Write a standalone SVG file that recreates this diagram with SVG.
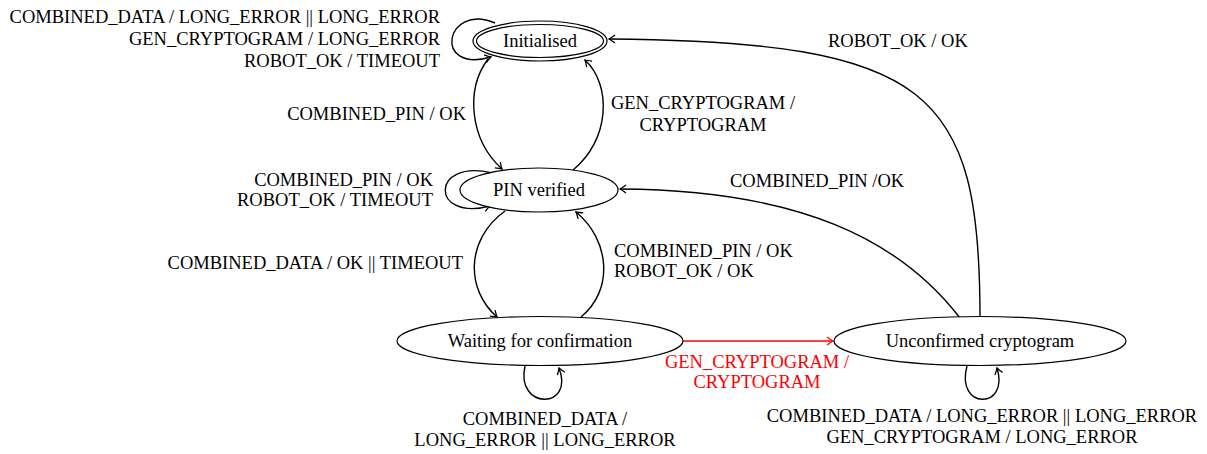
<svg xmlns="http://www.w3.org/2000/svg" width="1207" height="454" viewBox="0 0 1207 454">
<style>
text{font-family:"Liberation Serif","Times New Roman",serif;font-size:18.5px;fill:#000}
.node{fill:#fff;stroke:#000;stroke-width:1.2}
.e{fill:none;stroke:#000;stroke-width:1.4}
.red{stroke:#f00}
.rt{fill:#f00}
.r{text-anchor:end}
.m{text-anchor:middle}
</style>
<defs>
<marker id="ah" markerUnits="userSpaceOnUse" markerWidth="12" markerHeight="12" viewBox="-8 -6 10 12" refX="0" refY="0" orient="auto">
<path d="M-6,-4 Q-2,-1 0,0 Q-2,1 -6,4" fill="none" stroke="#000" stroke-width="1.3"/>
</marker>
<marker id="ahr" markerUnits="userSpaceOnUse" markerWidth="12" markerHeight="12" viewBox="-8 -6 10 12" refX="0" refY="0" orient="auto">
<path d="M-6,-4 Q-2,-1 0,0 Q-2,1 -6,4" fill="none" stroke="#f00" stroke-width="1.3"/>
</marker>
</defs>
<g id="connectors">
<path class="e" d="M495,23 C445,2 432,74 491,57" marker-end="url(#ah)"/>
<path class="e" d="M488,59 C465,90 470,140 502,169" marker-end="url(#ah)"/>
<path class="e" d="M573,170 C610,140 612,85 585,60" marker-end="url(#ah)"/>
<path class="e" d="M492,173 C430,158 430,222 490,206" marker-end="url(#ah)"/>
<path class="e" d="M505,211 C465,240 466,290 497,317" marker-end="url(#ah)"/>
<path class="e" d="M581,317 C614,290 610,240 576,212" marker-end="url(#ah)"/>
<path class="e" d="M960,318 C900,240 800,190 620,189" marker-end="url(#ah)"/>
<path class="e" d="M980,317 C980,90 930,42 609,39" marker-end="url(#ah)"/>
<path class="e red" d="M683,341 L833,341" marker-end="url(#ahr)"/>
<path class="e" d="M525,366 C515,410 575,410 559,368" marker-end="url(#ah)"/>
<path class="e" d="M967,366 C955,410 1010,410 997,368" marker-end="url(#ah)"/>
</g>
<g id="n-initialised">
<ellipse class="node" cx="540" cy="41" rx="67" ry="20"/>
<ellipse class="node" cx="540" cy="41" rx="63.5" ry="16.5"/>
<text class="m" x="540" y="47">Initialised</text>
</g>
<g id="n-pin">
<ellipse class="node" cx="539" cy="190" rx="79" ry="22"/>
<text class="m" x="539" y="196">PIN verified</text>
</g>
<g id="n-waiting">
<ellipse class="node" cx="540" cy="341" rx="143" ry="24.5"/>
<text class="m" x="540" y="347">Waiting for confirmation</text>
</g>
<g id="n-unconfirmed">
<ellipse class="node" cx="980" cy="341" rx="146" ry="24.5"/>
<text class="m" x="980" y="347">Unconfirmed cryptogram</text>
</g>
<g id="labels">
<text class="r" x="440" y="23">COMBINED_DATA / LONG_ERROR || LONG_ERROR</text>
<text class="r" x="440" y="45">GEN_CRYPTOGRAM / LONG_ERROR</text>
<text class="r" x="440" y="67">ROBOT_OK / TIMEOUT</text>
<text class="r" x="466" y="120">COMBINED_PIN / OK</text>
<text class="m" x="703" y="109">GEN_CRYPTOGRAM /</text>
<text class="m" x="703" y="131">CRYPTOGRAM</text>
<text x="828" y="47">ROBOT_OK / OK</text>
<text class="r" x="433" y="186">COMBINED_PIN / OK</text>
<text class="r" x="433" y="206">ROBOT_OK / TIMEOUT</text>
<text x="730" y="187">COMBINED_PIN /OK</text>
<text class="r" x="463" y="269">COMBINED_DATA / OK || TIMEOUT</text>
<text x="614" y="257">COMBINED_PIN / OK</text>
<text x="614" y="277">ROBOT_OK / OK</text>
<text class="m rt" x="757" y="368">GEN_CRYPTOGRAM /</text>
<text class="m rt" x="757" y="388">CRYPTOGRAM</text>
<text class="m" x="545" y="425">COMBINED_DATA /</text>
<text class="m" x="545" y="446">LONG_ERROR || LONG_ERROR</text>
<text class="m" x="982" y="422">COMBINED_DATA / LONG_ERROR || LONG_ERROR</text>
<text class="m" x="982" y="443">GEN_CRYPTOGRAM / LONG_ERROR</text>
</g>
</svg>
